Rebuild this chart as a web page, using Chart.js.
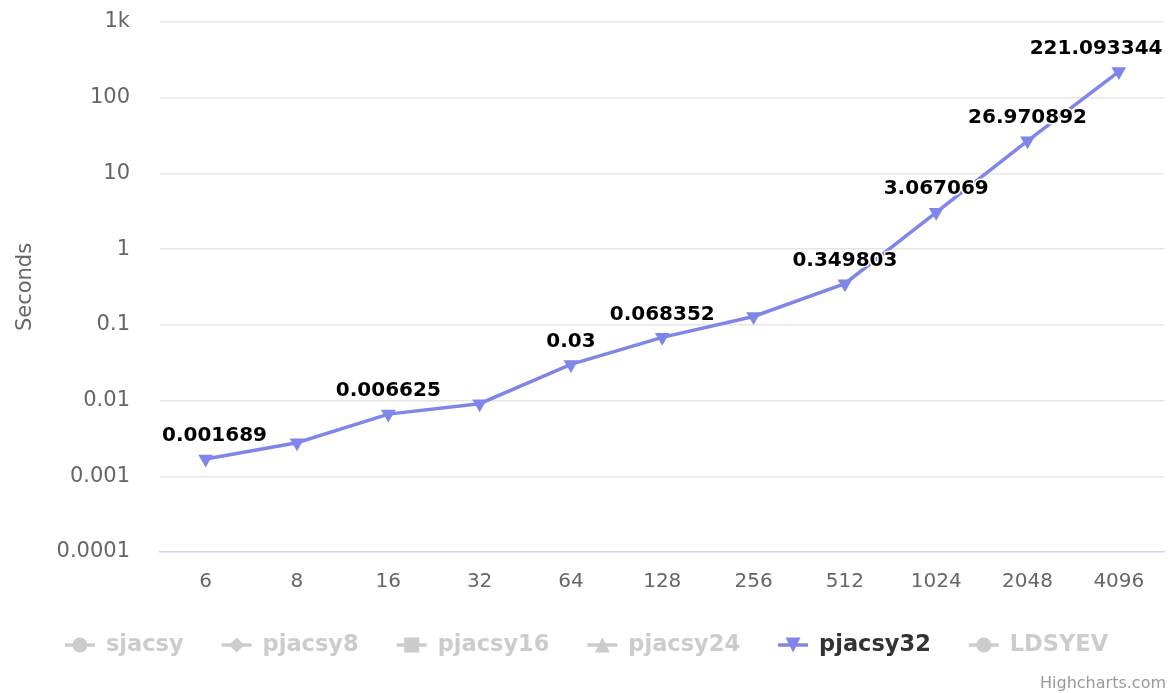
<!DOCTYPE html>
<html>
<head>
<meta charset="utf-8">
<script src="https://cdn.jsdelivr.net/npm/chart.js@4/dist/chart.umd.min.js"></script>
<style>
  body { margin: 0; background: #fff; }
  #wrap { width: 1173px; height: 693px; position: relative; }
</style>
</head>
<body>
<div id="wrap"><canvas id="timeChart"></canvas></div>
<script>
// values
const categories = ["6", "8", "16", "32", "64", "128", "256", "512", "1024", "2048", "4096"];
const pjacsy32 = [0.001689, 0.00277, 0.006625, 0.0091, 0.03, 0.068352, 0.129, 0.349803, 3.067069, 26.970892, 221.093344];
const yTicks = [0.0001, 0.001, 0.01, 0.1, 1, 10, 100, 1000];
const seriesNames = ["sjacsy", "pjacsy8", "pjacsy16", "pjacsy24", "pjacsy32", "LDSYEV"];
const seriesSymbols = ["circle", "diamond", "square", "triangle", "triangle-down", "circle"];
const seriesShown = [false, false, false, false, true, false];

const FONT = "DejaVu Sans";
const lineColor = "#8085e9";
Chart.defaults.font.family = FONT;

// draws the little marker used in the legend
function drawSymbol(ctx, type, x, y, r) {
  ctx.beginPath();
  if (type === "circle") {
    ctx.arc(x, y, r, 0, Math.PI * 2);
  } else if (type === "diamond") {
    ctx.moveTo(x, y - r); ctx.lineTo(x + r, y); ctx.lineTo(x, y + r); ctx.lineTo(x - r, y);
  } else if (type === "square") {
    ctx.rect(x - r, y - r, r * 2, r * 2);
  } else if (type === "triangle") {
    ctx.moveTo(x, y - r); ctx.lineTo(x + r, y + r); ctx.lineTo(x - r, y + r);
  } else {
    ctx.moveTo(x - r, y - r); ctx.lineTo(x + r, y - r); ctx.lineTo(x, y + r);
  }
  ctx.closePath();
  ctx.fill();
}

const legendPlugin = {
  id: "hcLegend",
  afterDraw(chart) {
    const ctx = chart.ctx;
    ctx.save();
    ctx.font = "bold 22.5px " + FONT;
    const symW = 30, symGap = 11, itemGap = 38;
    const widths = seriesNames.map((n) => ctx.measureText(n).width);
    let total = widths.reduce((a, w) => a + symW + symGap + w, 0) + itemGap * (seriesNames.length - 1);
    let x = (chart.width - total) / 2;
    const y = 645;
    seriesNames.forEach((name, i) => {
      const col = seriesShown[i] ? lineColor : "#cccccc";
      ctx.strokeStyle = col;
      ctx.fillStyle = col;
      ctx.lineWidth = 3.5;
      ctx.beginPath();
      ctx.moveTo(x, y);
      ctx.lineTo(x + symW, y);
      ctx.stroke();
      drawSymbol(ctx, seriesSymbols[i], x + symW / 2, y, 7.5);
      ctx.fillStyle = seriesShown[i] ? "#333333" : "#cccccc";
      ctx.textBaseline = "middle";
      ctx.textAlign = "left";
      ctx.fillText(name, x + symW + symGap, y);
      x += symW + symGap + widths[i] + itemGap;
    });
    // credit
    ctx.font = "16px " + FONT;
    ctx.fillStyle = "#999999";
    ctx.textAlign = "right";
    ctx.textBaseline = "alphabetic";
    ctx.fillText("Highcharts.com", 1166, 688);
    ctx.restore();
  },
};

// value labels, hidden when they would overlap an earlier one
const labelPlugin = {
  id: "pointLabels",
  afterDatasetsDraw(chart) {
    const ctx = chart.ctx;
    const area = chart.chartArea;
    const meta = chart.getDatasetMeta(0);
    ctx.save();
    ctx.font = "bold 20px " + FONT;
    ctx.textBaseline = "middle";
    ctx.textAlign = "left";
    const boxes = [];
    meta.data.forEach((pt, i) => {
      const text = String(pjacsy32[i]);
      const w = ctx.measureText(text).width;
      let left = pt.x - w / 2;
      if (left + w > area.right - 2) left = area.right - 2 - w;
      if (left < area.left + 2) left = area.left + 2;
      const cy = pt.y - 23;
      const box = { l: left - 4, r: left + w + 4, t: cy - 13, b: cy + 13 };
      const hit = boxes.some((b) => box.l < b.r && box.r > b.l && box.t < b.b && box.b > b.t);
      if (hit) return;
      boxes.push(box);
      ctx.lineWidth = 3;
      ctx.lineJoin = "round";
      ctx.strokeStyle = "#ffffff";
      ctx.strokeText(text, left, cy);
      ctx.fillStyle = "#000000";
      ctx.fillText(text, left, cy);
    });
    ctx.restore();
  },
};

new Chart(document.getElementById("timeChart"), {
  type: "line",
  data: {
    labels: categories,
    datasets: [
      {
        label: "pjacsy32",
        data: pjacsy32,
        borderColor: lineColor,
        backgroundColor: lineColor,
        borderWidth: 3.5,
        pointStyle: "triangle",
        pointRotation: 180,
        pointRadius: 8.5,
        pointHoverRadius: 8.5,
        pointBorderWidth: 0,
        pointBackgroundColor: lineColor,
        tension: 0,
      },
    ],
  },
  options: {
    responsive: true,
    maintainAspectRatio: false,
    animation: false,
    layout: { padding: { left: 0, right: 5, top: 22, bottom: 91 } },
    plugins: { legend: { display: false }, tooltip: { enabled: false } },
    scales: {
      x: {
        type: "category",
        offset: true,
        grid: { display: false, drawTicks: false },
        border: { color: "#ccd6eb", width: 1.5 },
        ticks: { color: "#666666", font: { size: 20 }, padding: 18, maxRotation: 0, autoSkip: false },
        afterFit: (s) => { s.height = 50; },
      },
      y: {
        type: "logarithmic",
        min: 0.0001,
        max: 1000,
        afterBuildTicks: (s) => { s.ticks = yTicks.map((v) => ({ value: v })); },
        afterFit: (s) => {
          s.width = 160;
          s.paddingTop = 0;
          s.paddingBottom = 0;
        },
        ticks: {
          color: "#666666",
          font: { size: 21 },
          padding: 30,
          callback: (v) => (v === 1000 ? "1k" : String(v)),
        },
        grid: {
          color: (c) => (c.tick && c.tick.value === 0.0001 ? "rgba(0,0,0,0)" : "#e6e6e6"),
          lineWidth: 1.5,
          drawTicks: false,
        },
        border: { display: false },
        title: {
          display: true,
          text: "Seconds",
          color: "#666666",
          font: { size: 21 },
          padding: { top: 13, bottom: 0 },
        },
      },
    },
  },
  plugins: [labelPlugin, legendPlugin],
});
</script>
</body>
</html>
